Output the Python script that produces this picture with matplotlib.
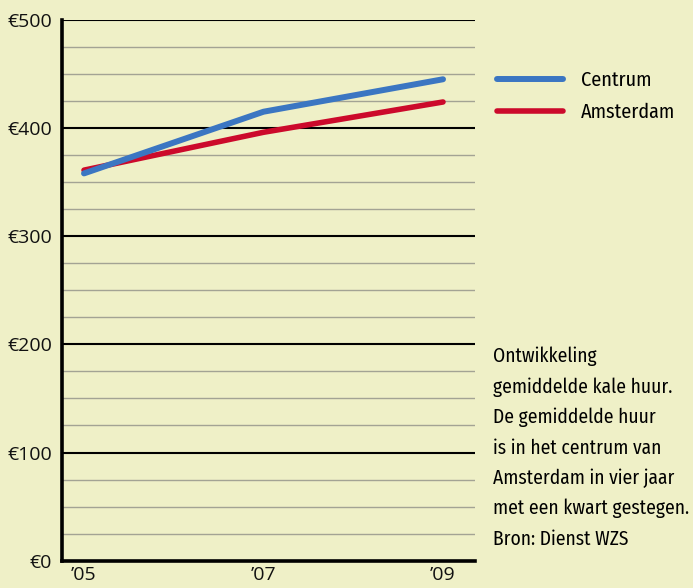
import matplotlib
matplotlib.use("Agg")
import matplotlib.pyplot as plt
from matplotlib.ticker import MultipleLocator

# gemiddelde kale huur per maand (euro)
years = [2005, 2007, 2009]
year_labels = ["\u201905", "\u201907", "\u201909"]
centrum = [358, 415, 445]
amsterdam = [361, 396, 424]

y_ticks = [0, 100, 200, 300, 400, 500]
y_labels = ["\u20ac0", "\u20ac100", "\u20ac200", "\u20ac300", "\u20ac400", "\u20ac500"]

note = ("Ontwikkeling\n"
        "gemiddelde kale huur.\n"
        "De gemiddelde huur\n"
        "is in het centrum van\n"
        "Amsterdam in vier jaar\n"
        "met een kwart gestegen.\n"
        "Bron: Dienst WZS")

bg = "#eff0c7"
blue = "#3b76c2"
red = "#cc0a2b"
narrow = ["Fira Sans Condensed", "Open Sans", "DejaVu Sans"]

plt.rcParams["font.family"] = ["Open Sans", "DejaVu Sans"]

fig = plt.figure(figsize=(6.93, 5.88), dpi=100, facecolor=bg)
ax = fig.add_axes([0.0895, 0.0464, 0.596, 0.920])
ax.set_facecolor(bg)

ax.plot(years, amsterdam, color=red, lw=4.0, solid_capstyle="round",
        label="Amsterdam", zorder=3)
ax.plot(years, centrum, color=blue, lw=4.3, solid_capstyle="round",
        label="Centrum", zorder=4)

ax.set_xlim(2004.755, 2009.357)
ax.set_ylim(0, 500)
ax.set_xticks(years)
ax.set_xticklabels(year_labels, fontsize=14)
ax.set_yticks(y_ticks)
ax.set_yticklabels(y_labels, fontsize=14)
ax.yaxis.set_minor_locator(MultipleLocator(25))
ax.tick_params(axis="both", which="both", length=0, labelcolor="#111111")
ax.tick_params(axis="y", pad=7)
ax.tick_params(axis="x", pad=4)

ax.grid(which="major", axis="y", color="black", lw=1.5, zorder=1)
ax.grid(which="minor", axis="y", color="#a3a394", lw=1.0, zorder=1)
ax.grid(which="major", axis="x", visible=False)

for side in ["top", "right"]:
    ax.spines[side].set_visible(False)
ax.spines["left"].set_linewidth(2.6)
ax.spines["bottom"].set_linewidth(2.6)
ax.spines["left"].set_zorder(5)
ax.spines["bottom"].set_zorder(5)

handles, labels = ax.get_legend_handles_labels()
leg = fig.legend(handles[::-1], labels[::-1], loc="upper left",
                 bbox_to_anchor=(0.7058, 0.893), frameon=False,
                 prop={"family": narrow, "size": 14.5},
                 handlelength=3.27, handletextpad=0.87,
                 labelspacing=0.58, borderaxespad=0)

fig.text(0.712, 0.410, note, fontsize=14, va="top", ha="left",
         family=narrow, linespacing=1.7)

fig.savefig("out.png", dpi=100, facecolor=bg)
